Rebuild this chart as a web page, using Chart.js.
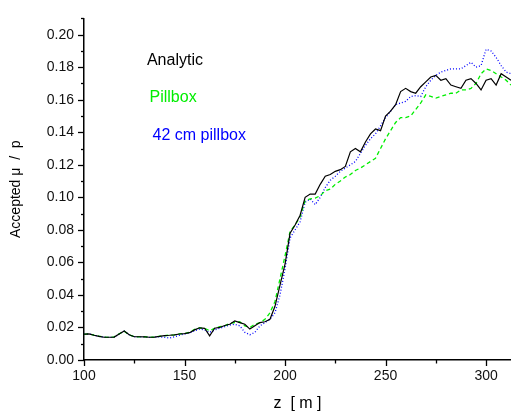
<!DOCTYPE html>
<html>
<head>
<meta charset="utf-8">
<script src="https://cdn.jsdelivr.net/npm/chart.js@4/dist/chart.umd.min.js"></script>
<style>
html,body{margin:0;padding:0;background:#fff;}
#wrap{width:511px;height:414px;position:relative;}
</style>
</head>
<body>
<div id="wrap"><canvas id="c" width="511" height="414"></canvas></div>
<script>
const zValues = [100,102.5,105,107.5,110,112.5,115,117.5,120,122.5,125,127.5,130,132.5,135,137.5,140,142.5,145,147.5,150,152.5,155,157.5,160,162.5,165,167.5,170,172.5,175,177.5,180,182.5,185,187.5,190,192.5,195,197.5,200,202.5,205,207.5,210,212.5,215,217.5,220,222.5,225,227.5,230,232.5,235,237.5,240,242.5,245,247.5,250,252.5,255,257.5,260,262.5,265,267.5,270,272.5,275,277.5,280,282.5,285,287.5,290,292.5,295,297.5,300,302.5,305,307.5,310,312.4];

const analytic = [0.0159,0.016,0.0152,0.0145,0.014,0.014,0.0141,0.016,0.0178,0.0155,0.0143,0.0143,0.0142,0.014,0.0141,0.0145,0.015,0.0152,0.0155,0.016,0.0162,0.0168,0.0185,0.0198,0.0195,0.0148,0.0195,0.020,0.0212,0.022,0.024,0.023,0.022,0.019,0.021,0.023,0.0235,0.025,0.033,0.046,0.059,0.078,0.083,0.089,0.100,0.102,0.102,0.108,0.113,0.114,0.116,0.117,0.119,0.128,0.130,0.128,0.134,0.139,0.142,0.141,0.150,0.153,0.157,0.165,0.167,0.165,0.164,0.168,0.171,0.174,0.175,0.172,0.173,0.169,0.168,0.167,0.172,0.173,0.170,0.166,0.172,0.173,0.169,0.176,0.174,0.172];

const pillbox = [0.0158,0.0161,0.0153,0.0146,0.0141,0.0139,0.0142,0.0161,0.0177,0.0154,0.0144,0.0142,0.0143,0.0141,0.014,0.0146,0.0149,0.0153,0.0154,0.0161,0.0163,0.017,0.0188,0.0197,0.0195,0.018,0.0195,0.0205,0.021,0.0225,0.023,0.0235,0.021,0.020,0.022,0.023,0.025,0.029,0.036,0.050,0.064,0.079,0.083,0.088,0.098,0.099,0.0995,0.101,0.104,0.105,0.108,0.110,0.1125,0.114,0.1165,0.118,0.120,0.122,0.124,0.130,0.136,0.141,0.146,0.149,0.149,0.150,0.154,0.158,0.163,0.162,0.161,0.162,0.163,0.164,0.164,0.166,0.166,0.167,0.170,0.176,0.179,0.178,0.176,0.174,0.172,0.169];

const pillbox42 = [0.0159,0.016,0.0152,0.0145,0.014,0.0139,0.014,0.016,0.0178,0.0155,0.0144,0.0142,0.0142,0.0139,0.014,0.0142,0.014,0.0135,0.0142,0.0152,0.016,0.0166,0.018,0.019,0.0185,0.017,0.0185,0.0195,0.0205,0.0215,0.022,0.021,0.017,0.0155,0.017,0.021,0.023,0.025,0.029,0.040,0.056,0.075,0.080,0.085,0.097,0.099,0.0955,0.100,0.106,0.1105,0.113,0.116,0.118,0.120,0.122,0.127,0.132,0.136,0.139,0.144,0.149,0.153,0.157,0.158,0.159,0.162,0.1625,0.162,0.168,0.172,0.175,0.177,0.178,0.179,0.179,0.179,0.181,0.183,0.180,0.181,0.191,0.190,0.186,0.181,0.177,0.176];

const xTickValues = [100,150,200,250,300];
const seriesNames = ['Analytic','Pillbox','42 cm pillbox'];

function pts(vals){ return vals.map((v,i)=>({x:zValues[i], y:v})); }

const FONT = 'Arial, "Liberation Sans", sans-serif';

const annotPlugin = {
  id:'annot',
  afterDraw(chart){
    const ctx = chart.ctx;
    const xs = chart.scales.x, ys = chart.scales.y;
    ctx.save();
    ctx.strokeStyle = '#000';
    ctx.lineWidth = 1.3;
    for (let k=0;k<=21;k++){
      const v = k/100;
      const py = Math.round(ys.getPixelForValue(v))+0.5;
      const len = (k%2===0)?6:3;
      ctx.beginPath();
      ctx.moveTo(xs.left, py);
      ctx.lineTo(xs.left-len, py);
      ctx.stroke();
    }
    for (let v=100; v<=312; v+=25){
      const px = Math.round(xs.getPixelForValue(v))+0.5;
      const len = (v%50===0)?6:3.5;
      ctx.beginPath();
      ctx.moveTo(px, ys.bottom);
      ctx.lineTo(px, ys.bottom+len);
      ctx.stroke();
    }
    ctx.font = '16px ' + FONT;
    ctx.textBaseline = 'alphabetic';
    ctx.textAlign = 'left';
    const lab = [
      [seriesNames[0], 131.3, 0.1815, '#000000'],
      [seriesNames[1], 132.6, 0.1586, '#00ee00'],
      [seriesNames[2], 134.1, 0.1353, '#0000ff']
    ];
    lab.forEach(l=>{
      ctx.fillStyle = l[3];
      ctx.fillText(l[0], xs.getPixelForValue(l[1]), ys.getPixelForValue(l[2]));
    });
    ctx.restore();
  }
};

new Chart(document.getElementById('c'), {
  type:'line',
  data:{
    datasets:[
      {label:seriesNames[0], data:pts(analytic), borderColor:'#000000', borderWidth:1.2, pointRadius:0, tension:0, fill:false},
      {label:seriesNames[1], data:pts(pillbox), borderColor:'#00ee00', borderWidth:1.3, borderDash:[4,3], pointRadius:0, tension:0, fill:false},
      {label:seriesNames[2], data:pts(pillbox42), borderColor:'#0000ff', borderWidth:1.3, borderDash:[1,2], pointRadius:0, tension:0, fill:false}
    ]
  },
  options:{
    responsive:false,
    animation:false,
    events:[],
    layout:{padding:{top:8,right:0,left:0,bottom:0}},
    plugins:{legend:{display:false}, tooltip:{enabled:false}},
    scales:{
      x:{
        type:'linear', min:100, max:312.4,
        afterFit(s){ s.height = 54; },
        afterBuildTicks(s){ s.ticks = xTickValues.map(v=>({value:v})); },
        ticks:{stepSize:50, includeBounds:false, padding:8, color:'#111', font:{family:FONT, size:14}, maxRotation:0},
        grid:{display:false, drawTicks:false},
        border:{display:true, color:'#000', width:1.5},
        title:{display:true, text:'z  [ m ]', color:'#000', font:{family:FONT, size:16}, padding:{top:0,bottom:1}}
      },
      y:{
        type:'linear', min:0, max:0.21,
        afterFit(s){ s.width = 84; },
        ticks:{stepSize:0.02, includeBounds:false, padding:10, color:'#111', font:{family:FONT, size:14}, callback:(v)=>Number(v).toFixed(2)},
        grid:{display:false, drawTicks:false},
        border:{display:true, color:'#000', width:1.5},
        title:{display:true, text:'Accepted μ  /  p', color:'#000', font:{family:FONT, size:14}, padding:{top:8,bottom:0}}
      }
    }
  },
  plugins:[annotPlugin]
});
</script>
</body>
</html>
